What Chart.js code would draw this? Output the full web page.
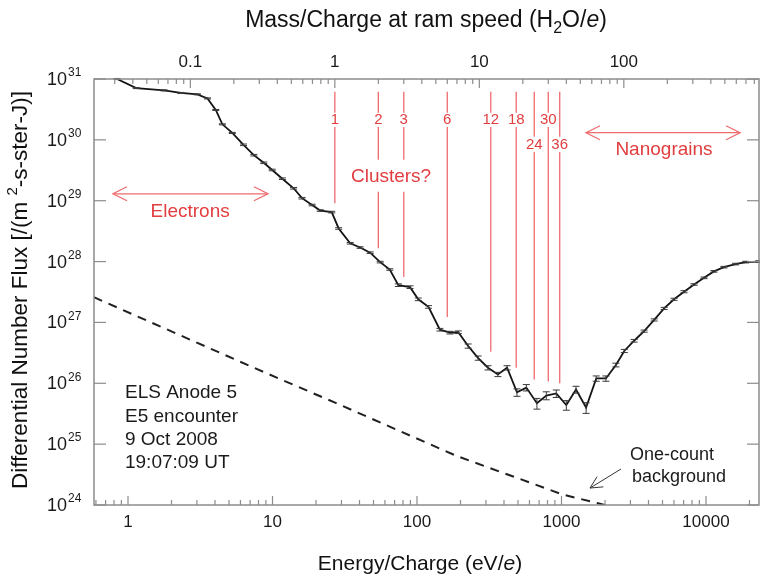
<!DOCTYPE html>
<html>
<head>
<meta charset="utf-8">
<script src="https://cdn.jsdelivr.net/npm/chart.js@4.4.1/dist/chart.umd.min.js"></script>
<style>
  html, body { margin: 0; padding: 0; background: #fff; }
</style>
</head>
<body>
<canvas id="chart" width="760" height="578"></canvas>
<script>
// --- Data ---

// ELS energy bins (eV/e) and measured differential number flux
const energy = [0.84, 1.14, 1.78, 2.32, 3.02, 3.55, 4.05, 4.5, 5.27, 6.3,
    7.43, 8.7, 9.95, 11.7, 14, 16, 18.8, 21.4, 25.7, 28.7,
    34.5, 40.4, 47.4, 55.6, 64.8, 74.3, 89.5, 102, 120, 144,
    169, 193, 226, 265, 310, 363, 420, 492, 571, 676,
    785, 920, 1080, 1260, 1480, 1740, 2030, 2380, 2720, 3180,
    3730, 4380, 5130, 6010, 7050, 8270, 9690, 11350, 13300, 16000,
    18800, 23200];
const flux = [1.0e31, 7.1e30, 6.5e30, 5.9e30, 5.6e30, 4.8e30, 3.1e30, 1.8e30, 1.3e30, 8.3e29,
    5.6e29, 4.2e29, 3.2e29, 2.3e29, 1.6e29, 1.1e29, 8.5e28, 6.9e28, 6.5e28, 3.5e28,
    2.0e28, 1.7e28, 1.4e28, 9.8e27, 7.4e27, 4.1e27, 3.8e27, 2.4e27, 1.8e27, 7.6e26,
    6.8e26, 6.9e26, 4.1e26, 2.6e26, 1.8e26, 1.4e26, 1.8e26, 7.1e25, 8.5e25, 4.7e25,
    6.3e25, 6.8e25, 4.4e25, 7.9e25, 4.0e25, 1.2e26, 1.2e26, 2.0e26, 3.4e26, 5.0e26,
    7.2e26, 1.1e27, 1.7e27, 2.4e27, 3.2e27, 4.2e27, 5.4e27, 6.9e27, 8.1e27, 9.1e27,
    9.8e27, 1.0e28];
// relative error (fraction of flux)
const fluxErr = [0.02, 0.02, 0.02, 0.02, 0.02, 0.02, 0.02, 0.02, 0.02, 0.03,
    0.03, 0.03, 0.03, 0.03, 0.03, 0.03, 0.03, 0.03, 0.03, 0.03,
    0.03, 0.03, 0.03, 0.03, 0.03, 0.05, 0.05, 0.05, 0.05, 0.05,
    0.05, 0.05, 0.08, 0.08, 0.08, 0.08, 0.08, 0.14, 0.12, 0.20,
    0.15, 0.14, 0.18, 0.13, 0.20, 0.10, 0.10, 0.07, 0.06, 0.05,
    0.04, 0.04, 0.04, 0.04, 0.04, 0.03, 0.03, 0.03, 0.03, 0.03,
    0.03, 0.03];

// one-count background level
const bgEnergy = [0.58, 7.2, 27.1, 188, 1024, 1846, 2170];
const bgFlux = [2.6e27, 1.86e26, 4.8e25, 6.4e24, 1.48e24, 1.05e24, 0.95e24];

// water cluster masses marked at ram speed, and flux where each marker stops
const clusterMass = [1, 2, 3, 6, 12, 18, 24, 30, 36];
const clusterStop = [9.1e28, 1.66e28, 5.6e27, 1.23e27, 3.3e26, 1.8e26, 1.15e26, 1.07e26, 1.0e26];
const clusterRow = [0, 0, 0, 0, 0, 0, 1, 0, 1];

// axis ticks
const energyTicks = [1, 10, 100, 1000, 10000];
const massTicks = [0.1, 1, 10, 100];
const fluxExp = [24, 25, 26, 27, 28, 29, 30, 31];

// axis ranges
const E_MIN = 0.5817, E_MAX = 23270;
const EV_PER_H2O = 27.0;   // energy of one water molecule at ram speed

const FONT = '"Liberation Sans", Arial, Helvetica, sans-serif';
const RED_LINE = '#ee6b6e';
const RED_TEXT = '#e23d3f';

// draw text built from pieces: {t, it, sub, sup}
function rich(ctx, parts, x, y, align, size, color) {
    const fontOf = p => (p.it ? 'italic ' : '') + ((p.sub || p.sup) ? Math.round(size * 0.68) : size) + 'px ' + FONT;
    let w = 0;
    parts.forEach(p => { ctx.font = fontOf(p); w += ctx.measureText(p.t).width; });
    let cx = align === 'center' ? x - w / 2 : align === 'right' ? x - w : x;
    ctx.fillStyle = color;
    ctx.textAlign = 'left';
    ctx.textBaseline = 'middle';
    parts.forEach(p => {
        ctx.font = fontOf(p);
        const dy = p.sub ? size * 0.32 : p.sup ? -size * 0.38 : 0;
        ctx.fillText(p.t, cx, y + dy);
        cx += ctx.measureText(p.t).width;
    });
}

function arrowHead(ctx, x1, y1, x2, y2, len, half) {
    const a = Math.atan2(y2 - y1, x2 - x1);
    ctx.beginPath();
    ctx.moveTo(x2 - len * Math.cos(a) + half * Math.sin(a), y2 - len * Math.sin(a) - half * Math.cos(a));
    ctx.lineTo(x2, y2);
    ctx.lineTo(x2 - len * Math.cos(a) - half * Math.sin(a), y2 - len * Math.sin(a) + half * Math.cos(a));
    ctx.stroke();
}

function line(ctx, x1, y1, x2, y2) {
    ctx.beginPath();
    ctx.moveTo(x1, y1);
    ctx.lineTo(x2, y2);
    ctx.stroke();
}

// --- Plugins ---

// red annotations behind the data
const annotations = {
    id: 'annotations',
    beforeDatasetsDraw(chart) {
        const { ctx, scales: { x, x2, y } } = chart;
        ctx.save();
        ctx.strokeStyle = RED_LINE;
        ctx.lineWidth = 1.3;
        const yTop = y.getPixelForValue(6.2e30);
        clusterMass.forEach((m, i) => {
            const px = x2.getPixelForValue(m);
            const row = clusterRow[i];
            const segEnd = y.getPixelForValue(row ? 1.13e30 : 2.8e30);
            const labY = y.getPixelForValue(row ? 8.3e29 : 2.15e30);
            const segStart = y.getPixelForValue(row ? 6.3e29 : 1.63e30);
            const stop = y.getPixelForValue(clusterStop[i]);
            line(ctx, px, yTop, px, segEnd);
            if (m === 2 || m === 3) {
                line(ctx, px, segStart, px, y.getPixelForValue(4.7e29));
                line(ctx, px, y.getPixelForValue(1.4e29), px, stop);
            } else {
                line(ctx, px, segStart, px, stop);
            }
            rich(ctx, [{ t: String(m) }], px, labY, 'center', 15, RED_TEXT);
        });
        rich(ctx, [{ t: 'Clusters?' }], x2.getPixelForValue(2.45), y.getPixelForValue(2.5e29), 'center', 19, RED_TEXT);

        // Electrons double arrow
        let ax1 = x.getPixelForValue(0.787), ax2 = x.getPixelForValue(9.3), ay = y.getPixelForValue(1.3e29);
        line(ctx, ax1, ay, ax2, ay);
        arrowHead(ctx, ax2, ay, ax1, ay, 14, 7);
        arrowHead(ctx, ax1, ay, ax2, ay, 14, 7);
        rich(ctx, [{ t: 'Electrons' }], x.getPixelForValue(2.69), y.getPixelForValue(6.5e28), 'center', 19, RED_TEXT);

        // Nanograins double arrow
        ax1 = x.getPixelForValue(1478); ax2 = x.getPixelForValue(17200); ay = y.getPixelForValue(1.31e30);
        line(ctx, ax1, ay, ax2, ay);
        arrowHead(ctx, ax2, ay, ax1, ay, 14, 7);
        arrowHead(ctx, ax1, ay, ax2, ay, 14, 7);
        rich(ctx, [{ t: 'Nanograins' }], x.getPixelForValue(5120), y.getPixelForValue(6.8e29), 'center', 19, RED_TEXT);
        ctx.restore();
    }
};

// error bars on the measured flux
const errorBars = {
    id: 'errorBars',
    afterDatasetsDraw(chart) {
        const { ctx, scales: { x, y } } = chart;
        ctx.save();
        ctx.strokeStyle = '#3a3a3a';
        ctx.lineWidth = 1;
        energy.forEach((e, i) => {
            const px = x.getPixelForValue(e);
            const hi = y.getPixelForValue(flux[i] * (1 + fluxErr[i]));
            const lo = y.getPixelForValue(flux[i] * (1 - fluxErr[i]));
            line(ctx, px, hi, px, lo);
            line(ctx, px - 3.5, hi, px + 3.5, hi);
            line(ctx, px - 3.5, lo, px + 3.5, lo);
        });
        ctx.restore();
    }
};

// frame, inward ticks, tick labels, titles and black notes
const axesDeco = {
    id: 'axesDeco',
    afterDraw(chart) {
        const { ctx, chartArea: a, scales: { x, x2, y } } = chart;
        ctx.save();
        ctx.strokeStyle = '#8c8c8c';
        ctx.lineWidth = 1.5;
        ctx.strokeRect(a.left, a.top, a.right - a.left, a.bottom - a.top);

        ctx.lineWidth = 1.2;
        const logTicks = (sc, cb) => {
            const lo = Math.floor(Math.log10(sc.min)), hi = Math.ceil(Math.log10(sc.max));
            for (let d = lo; d <= hi; d++) {
                for (let m = 1; m < 10; m++) {
                    const v = m * Math.pow(10, d);
                    if (v < sc.min || v > sc.max) continue;
                    cb(sc.getPixelForValue(v), m === 1);
                }
            }
        };
        logTicks(x, (px, major) => line(ctx, px, a.bottom, px, a.bottom - (major ? 9 : 5)));
        logTicks(x2, (px, major) => line(ctx, px, a.top, px, a.top + (major ? 9 : 5)));
        fluxExp.forEach(e => {
            const py = y.getPixelForValue(Math.pow(10, e));
            line(ctx, a.left, py, a.left + 12, py);
            line(ctx, a.right, py, a.right - 12, py);
        });

        energyTicks.forEach(v => rich(ctx, [{ t: String(v) }], x.getPixelForValue(v), a.bottom + 17, 'center', 17, '#1a1a1a'));
        massTicks.forEach(v => rich(ctx, [{ t: String(v) }], x2.getPixelForValue(v), a.top - 17, 'center', 17, '#1a1a1a'));
        fluxExp.forEach(e => {
            const py = y.getPixelForValue(Math.pow(10, e));
            rich(ctx, [{ t: '10' }], 67, py + 1, 'right', 18, '#1a1a1a');
            rich(ctx, [{ t: String(e) }], 68, py - 6, 'left', 12, '#1a1a1a');
        });

        rich(ctx, [{ t: 'Energy/Charge (eV/' }, { t: 'e', it: true }, { t: ')' }], 420, 564, 'center', 21, '#111');
        rich(ctx, [{ t: 'Mass/Charge at ram speed (H' }, { t: '2', sub: true }, { t: 'O/' }, { t: 'e', it: true }, { t: ')' }], 426, 21, 'center', 23, '#111');
        ctx.save();
        ctx.translate(21, 290);
        ctx.rotate(-Math.PI / 2);
        rich(ctx, [{ t: 'Differential Number Flux [/(m ' }, { t: '2', sup: true }, { t: '-s-ster-J)]' }], 0, 0, 'center', 22.5, '#111');
        ctx.restore();

        // instrument note
        const nx = x.getPixelForValue(0.953), ny = y.getPixelForValue(6.9e25);
        ['ELS Anode 5', 'E5 encounter', '9 Oct 2008', '19:07:09 UT'].forEach((s, i) =>
            rich(ctx, [{ t: s }], nx, ny + i * 23.3, 'left', 19, '#1a1a1a'));

        // one-count background note
        const bx = x.getPixelForValue(2980), by = y.getPixelForValue(6.6e24);
        rich(ctx, [{ t: 'One-count' }], bx, by, 'left', 18, '#1a1a1a');
        rich(ctx, [{ t: 'background' }], bx + 2, by + 22, 'left', 18, '#1a1a1a');
        ctx.strokeStyle = '#333';
        ctx.lineWidth = 1;
        const t1x = x.getPixelForValue(2580), t1y = y.getPixelForValue(3.9e24);
        const t2x = x.getPixelForValue(1575), t2y = y.getPixelForValue(1.9e24);
        line(ctx, t1x, t1y, t2x, t2y);
        arrowHead(ctx, t1x, t1y, t2x, t2y, 12, 6);
        ctx.restore();
    }
};

// --- Chart ---
new Chart(document.getElementById('chart'), {
    type: 'line',
    data: {
        datasets: [{
            label: 'Flux',
            data: energy.map((e, i) => ({ x: e, y: flux[i] })),
            borderColor: '#141414',
            borderWidth: 1.8,
            pointRadius: 0,
            tension: 0
        }, {
            label: 'One-count background',
            data: bgEnergy.map((e, i) => ({ x: e, y: bgFlux[i] })),
            borderColor: '#202020',
            borderWidth: 2,
            borderDash: [9, 7],
            pointRadius: 0,
            tension: 0
        }]
    },
    options: {
        responsive: false,
        animation: false,
        layout: { padding: { left: 94, right: 1, top: 79, bottom: 73 } },
        plugins: { legend: { display: false }, tooltip: { enabled: false } },
        scales: {
            x: { type: 'logarithmic', min: E_MIN, max: E_MAX, display: false },
            x2: { type: 'logarithmic', position: 'top', min: E_MIN / EV_PER_H2O, max: E_MAX / EV_PER_H2O, display: false },
            y: { type: 'logarithmic', min: 1e24, max: 1e31, display: false }
        }
    },
    plugins: [annotations, errorBars, axesDeco]
});
</script>
</body>
</html>
